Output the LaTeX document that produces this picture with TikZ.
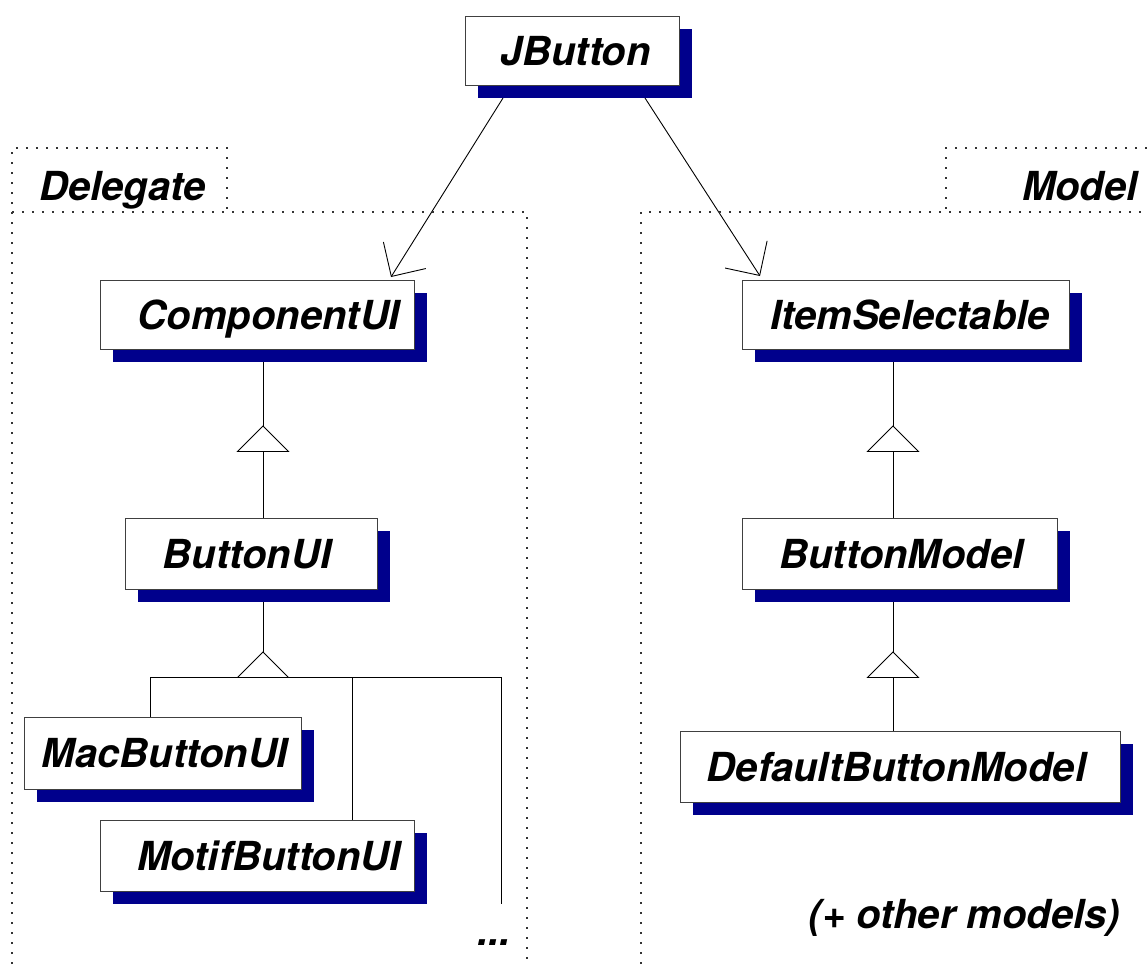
\documentclass[tikz,border=0pt]{standalone}
\usepackage{fontspec}
\setmainfont{TeX Gyre Heros}
\usetikzlibrary{arrows.meta,shadows,backgrounds}
\definecolor{shadowblue}{RGB}{0,0,140}
\begin{document}
\begin{tikzpicture}[x=1pt,y=-1pt,
  cls/.style={draw=black!75, line width=1pt, fill=white, inner sep=0pt,
    drop shadow={shadow xshift=13pt, shadow yshift=-13pt, fill=shadowblue, opacity=1}},
  lbl/.style={font=\fontsize{40}{48}\selectfont\bfseries\itshape, inner sep=0pt, anchor=base},
  frame/.style={line width=1.6pt, dash pattern=on 1.6pt off 8.4pt, black!80},
  assoc/.style={line width=0.9pt, -{Straight Barb[length=25pt,width=50pt]}},
  link/.style={line width=0.9pt},
  gen/.style={line width=0.9pt, fill=white}]
\useasboundingbox (0,0) rectangle (1147,964);

% package frames
\draw[frame] (12,964) -- (12,148) -- (227,148) -- (227,212);
\draw[frame] (12,212) -- (527,212) -- (527,964);
\draw[frame] (1147,148) -- (946,148) -- (946,212);
\draw[frame] (641,964) -- (641,212) -- (1147,212);
\node[lbl] (dlg) at (122.5,200) {Delegate};
\node[lbl] (mdl) at (1080,200) {Model};

% classes
\node[cls, minimum width=214pt, minimum height=69pt] (jb) at (572,50.5) {};
\node[lbl] (jbt) at (575.5,65) {JButton};
\node[cls, minimum width=314pt, minimum height=69pt] (cui) at (257,314.5) {};
\node[lbl] (cuit) at (269,329) {ComponentUI};
\node[cls, minimum width=327pt, minimum height=69pt] (is) at (905.5,314.5) {};
\node[lbl] (ist) at (910,329) {ItemSelectable};
\node[cls, minimum width=252pt, minimum height=71pt] (bui) at (251,553.5) {};
\node[lbl] (buit) at (247,568) {ButtonUI};
\node[cls, minimum width=315pt, minimum height=71pt] (bm) at (899.5,553.5) {};
\node[lbl] (bmt) at (901.5,568) {ButtonModel};
\node[cls, minimum width=277pt, minimum height=72pt] (mac) at (162.5,753) {};
\node[lbl] (mact) at (165,767.5) {MacButtonUI};
\node[cls, minimum width=314pt, minimum height=71pt] (motif) at (257,855.5) {};
\node[lbl] (motift) at (269,870) {MotifButtonUI};
\node[cls, minimum width=440pt, minimum height=71pt] (dbm) at (900,766.5) {};
\node[lbl] (dbmt) at (896.5,781) {DefaultButtonModel};

\node[lbl] (dots) at (494,945) {...};
\node[lbl] (other) at (964.5,928) {(+ other models)};

% connectors
\coordinate (a1s) at (503,98); \coordinate (a1e) at (391,277);
\coordinate (a2s) at (645,98); \coordinate (a2e) at (760,276);
\coordinate (g1) at (263,426); \coordinate (g1b) at (263,451.5);
\coordinate (g2) at (263,652); \coordinate (g2b) at (263,677.5);
\coordinate (g3) at (893,426); \coordinate (g3b) at (893,451.5);
\coordinate (g4) at (893,652); \coordinate (g4b) at (893,677.5);
\coordinate (b1) at (150,677.5); \coordinate (b2) at (352,677.5);
\coordinate (b3) at (501,677.5); \coordinate (b4) at (501,904);

\begin{pgfonlayer}{background}
\draw[assoc] (a1s) -- (a1e);
\draw[assoc] (a2s) -- (a2e);
\draw[link] (cui.south -| g1) -- (g1);
\draw[link] (g1b) -- (bui.north -| g1b);
\draw[link] (bui.south -| g2) -- (g2);
\draw[link] (b1) -- (b3) -- (b4);
\draw[link] (b1) -- (b1 |- mac.north);
\draw[link] (b2) -- (b2 |- motif.north);
\draw[link] (is.south -| g3) -- (g3);
\draw[link] (g3b) -- (bm.north -| g3b);
\draw[link] (bm.south -| g4) -- (g4);
\draw[link] (g4b) -- (dbm.north -| g4b);
\end{pgfonlayer}
\draw[gen] (g1) -- ++(-25.5,25.5) -- ++(51,0) -- cycle;
\draw[gen] (g2) -- ++(-25.5,25.5) -- ++(51,0) -- cycle;
\draw[gen] (g3) -- ++(-25.5,25.5) -- ++(51,0) -- cycle;
\draw[gen] (g4) -- ++(-25.5,25.5) -- ++(51,0) -- cycle;
\end{tikzpicture}
\end{document}
